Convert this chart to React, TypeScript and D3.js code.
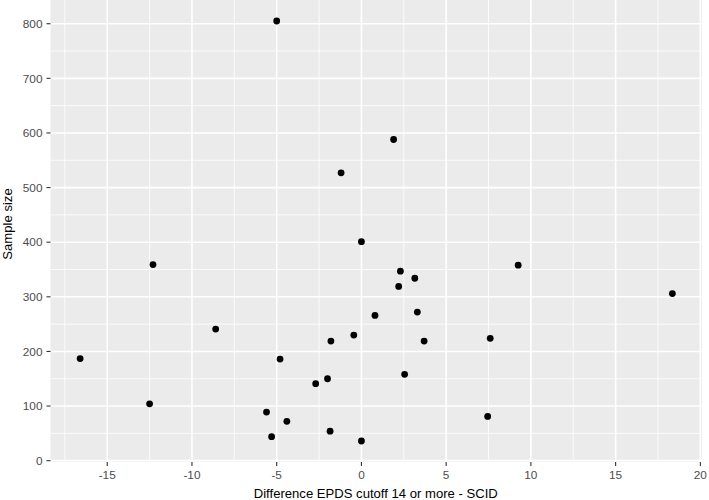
import React from "react";
import * as d3 from "d3";

const diffValues: number[] = [
  -5.0, -1.2, 0.0, -12.3, 0.8, -8.6, -0.45, -1.8, -16.6, -4.8, -2.0, -2.7, -12.5, -5.6, -4.4, -5.3, -1.85, 0.0,
  1.9, 2.3, 3.15, 2.2, 9.25, 18.35, 3.3, 3.7, 7.6, 2.55, 7.45,
];
const sampleSizes: number[] = [
  805, 527, 401, 359, 266, 241, 230, 219, 187, 186, 150, 141, 104, 89, 72, 44, 54, 36,
  588, 347, 334, 319, 358, 306, 272, 219, 224, 158, 81,
];
const xTicks: number[] = [-15, -10, -5, 0, 5, 10, 15, 20];
const xMinor: number[] = [-17.5, -12.5, -7.5, -2.5, 2.5, 7.5, 12.5, 17.5];
const yTicks: number[] = [0, 100, 200, 300, 400, 500, 600, 700, 800];
const yMinor: number[] = [50, 150, 250, 350, 450, 550, 650, 750];
const xTitle = "Difference EPDS cutoff 14 or more - SCID";
const yTitle = "Sample size";

export default function App() {
  const W = 709, H = 500;
  const left = 50.5, right = 702, top = 0, bottom = 462;
  const xmin = d3.min(diffValues)!, xmax = d3.max(diffValues)!;
  const ymin = d3.min(sampleSizes)!, ymax = d3.max(sampleSizes)!;
  const xe = (xmax - xmin) * 0.05, ye = (ymax - ymin) * 0.05;
  const x = d3.scaleLinear().domain([xmin - xe, xmax + xe]).range([left, right]);
  const y = d3.scaleLinear().domain([ymin - ye, ymax + ye]).range([bottom, top]);
  const font = "'Liberation Sans', Arial, sans-serif";
  return (
    <svg width={W} height={H} style={{ position: "absolute", left: 0, top: 0, background: "#fff" }}>
      <rect x={left} y={top} width={right - left} height={bottom - top} fill="#EBEBEB" />
      {xMinor.map((v) => (
        <line key={"xm" + v} x1={x(v)} x2={x(v)} y1={top} y2={bottom} stroke="#fff" strokeWidth={0.8} />
      ))}
      {yMinor.map((v) => (
        <line key={"ym" + v} x1={left} x2={right} y1={y(v)} y2={y(v)} stroke="#fff" strokeWidth={0.8} />
      ))}
      {xTicks.map((v) => (
        <line key={"xM" + v} x1={x(v)} x2={x(v)} y1={top} y2={bottom} stroke="#fff" strokeWidth={1.6} />
      ))}
      {yTicks.map((v) => (
        <line key={"yM" + v} x1={left} x2={right} y1={y(v)} y2={y(v)} stroke="#fff" strokeWidth={1.6} />
      ))}
      {diffValues.map((d, i) => (
        <circle key={"p" + i} cx={x(d)} cy={y(sampleSizes[i])} r={3.4} fill="#000" />
      ))}
      {xTicks.map((v) => (
        <g key={"xt" + v}>
          <line x1={x(v)} x2={x(v)} y1={bottom} y2={bottom + 4} stroke="#333" strokeWidth={1.1} />
          <text x={x(v)} y={bottom + 16.5} textAnchor="middle" fontSize={11.8} fill="#4D4D4D" fontFamily={font}>
            {v}
          </text>
        </g>
      ))}
      {yTicks.map((v) => (
        <g key={"yt" + v}>
          <line x1={left - 4} x2={left} y1={y(v)} y2={y(v)} stroke="#333" strokeWidth={1.1} />
          <text x={left - 8} y={y(v)} dy="0.36em" textAnchor="end" fontSize={11.8} fill="#4D4D4D" fontFamily={font}>
            {v}
          </text>
        </g>
      ))}
      <text x={(left + right) / 2 - 0.5} y={497.5} textAnchor="middle" fontSize={13.1} fill="#000" fontFamily={font}>
        {xTitle}
      </text>
      <text
        transform={`translate(12,224) rotate(-90)`}
        textAnchor="middle"
        fontSize={13.1}
        fill="#000"
        fontFamily={font}
      >
        {yTitle}
      </text>
    </svg>
  );
}
